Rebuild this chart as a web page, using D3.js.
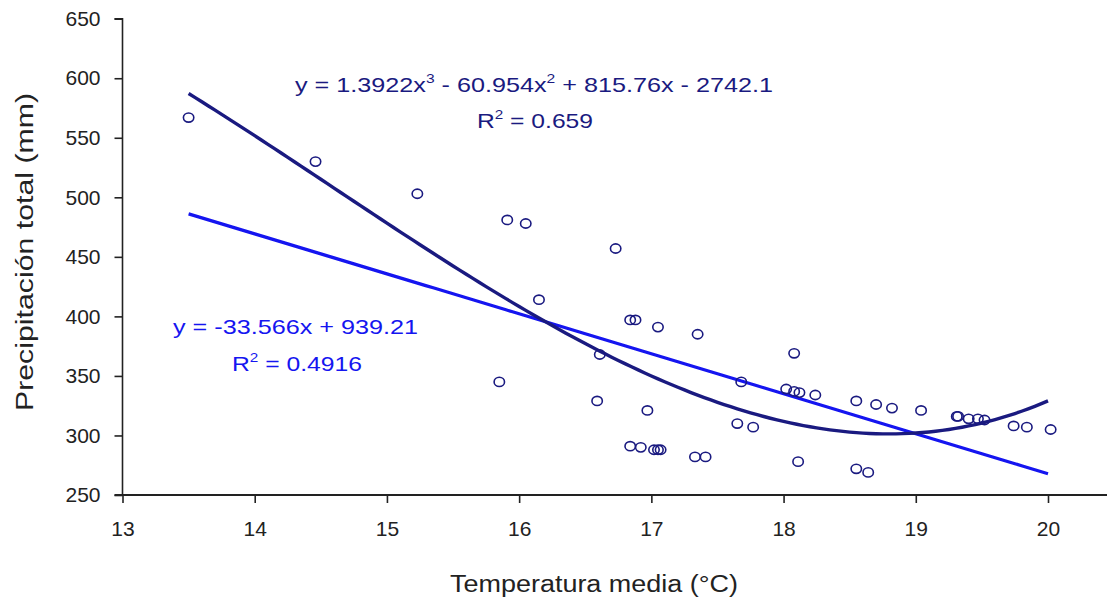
<!DOCTYPE html>
<html>
<head>
<meta charset="utf-8">
<script src="https://cdn.jsdelivr.net/npm/d3@7"></script>
<style>
  html, body { margin: 0; padding: 0; background: #fff; }
  svg { display: block; font-family: "Liberation Sans", Arial, sans-serif; }
</style>
</head>
<body>
<svg id="chart" width="1107" height="603"></svg>
<script>
// ---- Data ----
const temperature = [13.50, 14.46, 15.23, 15.91, 16.05, 16.15, 16.73, 15.85, 16.59, 16.61,
  16.84, 16.88, 17.05, 17.35, 16.97, 16.84, 16.92, 17.02, 17.05, 17.07,
  17.33, 17.41, 17.65, 17.77, 17.68, 18.08, 18.02, 18.08, 18.12, 18.24,
  18.55, 18.70, 18.82, 19.04, 19.31, 19.32, 19.40, 19.47, 19.52, 19.74,
  19.84, 20.02, 18.11, 18.55, 18.64];
const precipitation = [567, 530, 503, 481, 478, 414, 457, 345, 329, 368,
  397, 397, 391, 385, 321, 291, 290, 288, 288, 288,
  282, 282, 310, 307, 345, 369, 339, 337, 336, 334,
  329, 326, 323, 321, 316, 316, 314, 314, 313, 308,
  307, 305, 278, 272, 269];

// Trend line coefficients as shown in the chart
const cubicCoef = [1.3922, -60.954, 815.76, -2742.1];   // x^3, x^2, x, 1
const linearCoef = [-33.566, 939.21];                   // x, 1
const trendRange = [13.5, 20.0];

const xTicks = [13, 14, 15, 16, 17, 18, 19, 20];
const yTicks = [250, 300, 350, 400, 450, 500, 550, 600, 650];

const xTitle = "Temperatura media (°C)";
const yTitle = "Precipitación total (mm)";

// ---- Layout ----
const svg = d3.select("#chart");
const x = d3.scaleLinear().domain([13, 20]).range([122.5, 1048]);
const y = d3.scaleLinear().domain([250, 650]).range([495, 18.7]);
const axisColor = "#222";
const navy = "#1a1a80";
const blue = "#1515f0";

// Y axis
const yAxis = d3.axisLeft(y).tickValues(yTicks).tickSize(8).tickPadding(14).tickFormat(d3.format("d"));
const gy = svg.append("g").attr("transform", `translate(${x(13)},0)`).call(yAxis);
gy.select(".domain").attr("stroke", axisColor).attr("stroke-width", 1.6).attr("d", `M-8,${y(650)}H0V${y(250)}`);
gy.selectAll(".tick line").attr("stroke", axisColor).attr("stroke-width", 1.6);
gy.selectAll(".tick text").attr("font-size", 21).attr("fill", "#222").attr("font-family", "Liberation Sans, Arial, sans-serif");

// X axis
const xAxis = d3.axisBottom(x).tickValues(xTicks).tickSize(8).tickPadding(18).tickFormat(d3.format("d"));
const gx = svg.append("g").attr("transform", `translate(0,${y(250)})`).call(xAxis);
gx.select(".domain").attr("stroke", axisColor).attr("stroke-width", 2).attr("d", `M${x(13) - 8},0H1107`);
gx.selectAll(".tick line").attr("stroke", axisColor).attr("stroke-width", 1.6);
gx.selectAll(".tick text").attr("font-size", 21).attr("fill", "#222").attr("font-family", "Liberation Sans, Arial, sans-serif");

// Axis titles
svg.append("text").attr("x", 594).attr("y", 592).attr("text-anchor", "middle")
  .attr("font-size", 23).attr("fill", "#222")
  .attr("textLength", 288).attr("lengthAdjust", "spacingAndGlyphs").text(xTitle);
svg.append("text").attr("transform", "translate(33,252) rotate(-90)").attr("text-anchor", "middle")
  .attr("font-size", 23).attr("fill", "#222")
  .attr("textLength", 318).attr("lengthAdjust", "spacingAndGlyphs").text(yTitle);

// Trend lines
const cubic = v => ((cubicCoef[0] * v + cubicCoef[1]) * v + cubicCoef[2]) * v + cubicCoef[3];
const linear = v => linearCoef[0] * v + linearCoef[1];
const xs = d3.range(trendRange[0], trendRange[1] + 1e-9, 0.05);
const line = f => d3.line().x(d => x(d)).y(d => y(f(d)));

svg.append("path").datum(xs).attr("d", line(linear)).attr("fill", "none")
  .attr("stroke", blue).attr("stroke-width", 3.2);
svg.append("path").datum(xs).attr("d", line(cubic)).attr("fill", "none")
  .attr("stroke", navy).attr("stroke-width", 3.4);

// Data points (open ellipses)
svg.append("g").selectAll("ellipse").data(temperature.map((t, i) => [t, precipitation[i]]))
  .join("ellipse")
  .attr("cx", d => x(d[0])).attr("cy", d => y(d[1]))
  .attr("rx", 5.2).attr("ry", 4.6)
  .attr("fill", "none").attr("stroke", navy).attr("stroke-width", 1.6);

// Equation labels
function eq(xPos, yPos, len, color, parts) {
  const t = svg.append("text").attr("x", xPos).attr("y", yPos).attr("font-size", 21)
    .attr("fill", color).attr("textLength", len).attr("lengthAdjust", "spacingAndGlyphs");
  parts.forEach(p => {
    const s = t.append("tspan").text(p[0]);
    if (p[1]) s.attr("font-size", 13).attr("dy", -9);
    else if (p[2]) s.attr("dy", 9);
  });
}
eq(295, 92, 478, navy, [["y = 1.3922x"], ["3", true], [" - 60.954x", false, true], ["2", true], [" + 815.76x - 2742.1", false, true]]);
eq(477, 128, 116, navy, [["R"], ["2", true], [" = 0.659", false, true]]);
eq(173, 334, 245, blue, [["y = -33.566x + 939.21"]]);
eq(232, 371, 130, blue, [["R"], ["2", true], [" = 0.4916", false, true]]);
</script>
</body>
</html>
